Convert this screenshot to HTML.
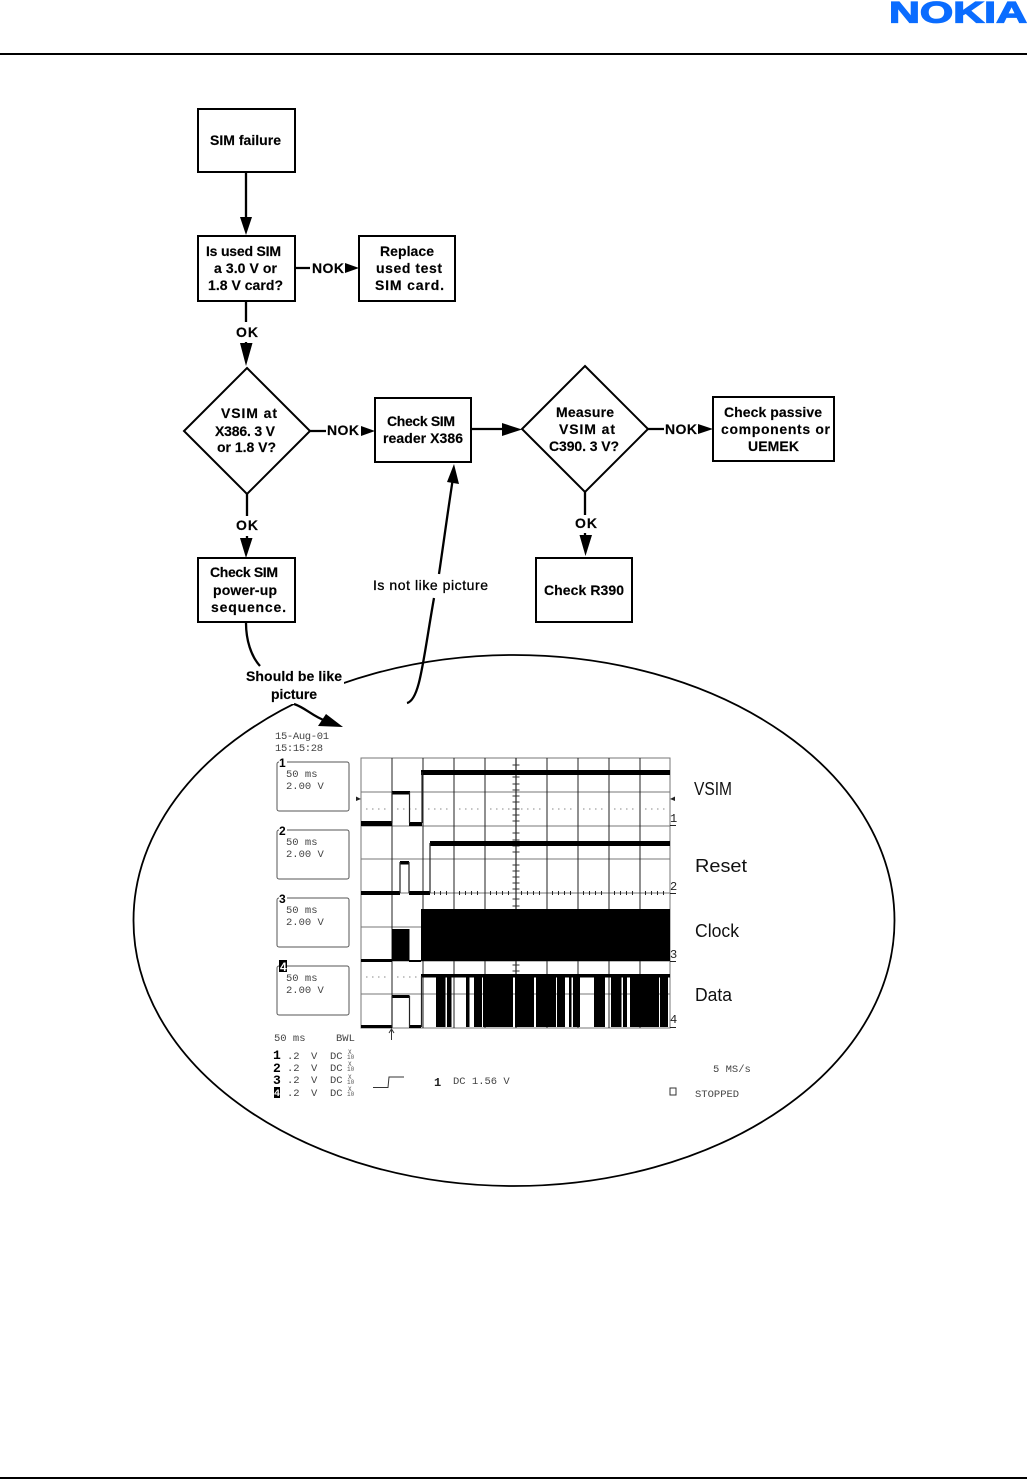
<!DOCTYPE html>
<html><head><meta charset="utf-8"><style>
html,body{margin:0;padding:0;background:#fff}
svg{display:block}
.f{font:bold 14px "Liberation Sans",sans-serif;fill:#000;stroke:#000;stroke-width:.15}
.m{font:10.5px "Liberation Mono",monospace;fill:#444}
.n{font:bold 12px "Liberation Sans",sans-serif;fill:#000}
.l{font:18px "Liberation Sans",sans-serif;fill:#111}
.b{fill:#fff;stroke:#000;stroke-width:2}
.c{fill:none;stroke:#000;stroke-width:2.300}
.g{stroke:#777;stroke-width:1}
.k{stroke:#222;stroke-width:1}
</style></head><body>
<svg width="1027" height="1479" viewBox="0 0 1027 1479" xmlns="http://www.w3.org/2000/svg">
<rect width="1027" height="1479" fill="#fff"/>
<text x="889" y="22.500" textLength="138" lengthAdjust="spacingAndGlyphs" style="font:bold 30px 'Liberation Sans',sans-serif;fill:#0a6cff;stroke:#0a6cff;stroke-width:1.200">NOKIA</text>
<rect x="0" y="53" width="1027" height="2" fill="#000"/>
<rect x="0" y="1477" width="1027" height="2" fill="#000"/>

<!-- ellipse -->
<ellipse cx="514" cy="920.500" rx="380.500" ry="265.500" fill="none" stroke="#000" stroke-width="1.800"/>
<rect x="244" y="664" width="100" height="40" fill="#fff"/>

<!-- connectors -->
<path class="c" d="M246 172V220M295 268H310M246 301V322M246 342V346M310 431H326M247 494V516M247 536V540M471 429H505M648 429H664M585 492V515M585 533V538"/>
<path class="c" d="M246 623C246 640 251 656 260 666M294 704C306 708 312 716 326 721M407 703C420 700 423 660 434 598M439 574C444 540 448 510 453 478"/>
<path d="M240 217H252L246 235ZM345 263L359 268L345 273ZM240 343H252.500L246 366ZM361 426L375 431L361 436ZM240 538H252.500L246 558ZM502 423L522 429.500L502 436ZM698 424L713 429L698 434ZM579.500 535H592L585.500 556ZM447 482L454 464L459 484ZM326 714L343 727L318 726Z" fill="#000"/>

<!-- boxes -->
<rect class="b" x="198" y="109" width="97" height="63"/>
<rect class="b" x="198" y="236" width="97" height="65"/>
<rect class="b" x="359" y="236" width="96" height="65"/>
<polygon class="b" points="247,368 310,431 247,494 184,431"/>
<rect class="b" x="375" y="398" width="96" height="64"/>
<polygon class="b" points="585,366 648,429 585,492 522,429"/>
<rect class="b" x="713" y="397" width="121" height="64"/>
<rect class="b" x="198" y="558" width="97" height="64"/>
<rect class="b" x="536" y="558" width="96" height="64"/>

<g lengthAdjust="spacingAndGlyphs">
<text class="f" x="210" y="145" textLength="71">SIM failure</text>
<text class="f" x="206" y="256" textLength="75">Is used SIM</text>
<text class="f" x="214" y="273" textLength="63">a 3.0 V or</text>
<text class="f" x="208" y="290" textLength="75">1.8 V card?</text>
<text class="f" x="312" y="273" textLength="32">NOK</text>
<text class="f" x="380" y="256" textLength="54">Replace</text>
<text class="f" x="376" y="273" textLength="66">used test</text>
<text class="f" x="375" y="290" textLength="69">SIM card.</text>
<text class="f" x="236" y="337" textLength="22">OK</text>
<text class="f" x="221" y="418" textLength="56">VSIM at</text>
<text class="f" x="215" y="436" textLength="60">X386. 3 V</text>
<text class="f" x="217" y="452" textLength="59">or 1.8 V?</text>
<text class="f" x="327" y="435" textLength="32">NOK</text>
<text class="f" x="387" y="426" textLength="68">Check SIM</text>
<text class="f" x="383" y="443" textLength="80">reader X386</text>
<text class="f" x="556" y="417" textLength="58">Measure</text>
<text class="f" x="559" y="434" textLength="56">VSIM at</text>
<text class="f" x="549" y="451" textLength="70">C390. 3 V?</text>
<text class="f" x="665" y="434" textLength="32">NOK</text>
<text class="f" x="724" y="417" textLength="98">Check passive</text>
<text class="f" x="721" y="434" textLength="109">components or</text>
<text class="f" x="748" y="451" textLength="51">UEMEK</text>
<text class="f" x="236" y="530" textLength="22">OK</text>
<text class="f" x="575" y="528" textLength="22">OK</text>
<text class="f" x="210" y="577" textLength="68">Check SIM</text>
<text class="f" x="213" y="595" textLength="64">power-up</text>
<text class="f" x="211" y="612" textLength="75">sequence.</text>
<text class="f" x="544" y="595" textLength="80">Check R390</text>
<text class="f" x="246" y="681" textLength="96">Should be like</text>
<text class="f" x="271" y="699" textLength="46">picture</text>
<text x="373" y="590" textLength="115" style="font:14px 'Liberation Sans',sans-serif;fill:#000;stroke:#000;stroke-width:.3">Is not like picture</text>
</g>

<!-- scope header -->
<text class="m" x="275" y="739" textLength="54">15-Aug-01</text>
<text class="m" x="275" y="751" textLength="48">15:15:28</text>

<!-- channel boxes -->
<g fill="none" stroke="#555" stroke-width="1">
<rect x="277" y="762" width="72" height="49" rx="2"/>
<rect x="277" y="830" width="72" height="49" rx="2"/>
<rect x="277" y="898" width="72" height="49" rx="2"/>
<rect x="277" y="966" width="72" height="49" rx="2"/>
</g>
<g fill="#fff"><rect x="279" y="756" width="8" height="12"/><rect x="279" y="824" width="8" height="12"/><rect x="279" y="892" width="8" height="12"/></g>
<text class="n" x="279" y="767">1</text><text class="n" x="279" y="835">2</text><text class="n" x="279" y="903">3</text>
<rect x="279" y="960" width="8" height="12" fill="#000"/><text class="n" x="280" y="971" style="fill:#fff">4</text>
<g class="m">
<text x="286" y="777">50 ms</text><text x="286" y="789">2.00 V</text>
<text x="286" y="845">50 ms</text><text x="286" y="857">2.00 V</text>
<text x="286" y="913">50 ms</text><text x="286" y="925">2.00 V</text>
<text x="286" y="981">50 ms</text><text x="286" y="993">2.00 V</text>
</g>

<!-- grid -->
<rect x="361" y="758" width="309" height="270" fill="#fff" stroke="#777" stroke-width="1"/>
<path class="g" d="M361 792H670M361 826H670M361 859H670M361 893H670M361 927H670M361 961H670M361 994H670"/>
<path class="k" d="M392 758V1028M423 758V1028M454 758V1028M485 758V1028M547 758V1028M578 758V1028M609 758V1028M640 758V1028"/>
<path stroke="#222" stroke-width="1.200" d="M516 758V1028"/>
<path stroke="#333" stroke-width="1" d="M512.500 765H519.500M512.500 771H519.500M512.500 777H519.500M512.500 784H519.500M512.500 790H519.500M512.500 796H519.500M512.500 802H519.500M512.500 809H519.500M512.500 815H519.500M512.500 821H519.500M512.500 833H519.500M512.500 840H519.500M512.500 846H519.500M512.500 852H519.500M512.500 865H519.500M512.500 871H519.500M512.500 877H519.500M512.500 883H519.500M512.500 889H519.500M512.500 899H519.500M512.500 906H519.500M512.500 965H519.500M512.500 971H519.500"/>
<path stroke="#888" stroke-width="1" stroke-dasharray="1.500 4.500" d="M366 809H388M397 809H419M428 809H450M459 809H481M490 809H512M521 809H543M552 809H574M583 809H605M614 809H636M645 809H667M366 977H388M397 977H419"/>
<path stroke="#222" stroke-width="4" stroke-dasharray="1 5" d="M366 893H388M428 893H450M459 893H481M490 893H512M521 893H543M552 893H574M583 893H605M614 893H636M645 893H667"/>

<!-- traces -->
<g fill="#000">
<rect x="361" y="821" width="31" height="5"/><rect x="392" y="791" width="18" height="3.500"/><rect x="409" y="822" width="13" height="4"/>
<rect x="421" y="770" width="249" height="5"/>
<rect x="361" y="891" width="39" height="4"/><rect x="400" y="861" width="9" height="3.500"/><rect x="409" y="891" width="21" height="4"/>
<rect x="430" y="841" width="240" height="5"/>
<rect x="361" y="959" width="31" height="3"/><rect x="392" y="929" width="17.500" height="32"/><rect x="409" y="960" width="12" height="2"/>
<rect x="421" y="909" width="249" height="52"/>
<rect x="361" y="1025" width="31" height="3"/><rect x="392" y="995" width="17.500" height="3"/><rect x="409" y="1025" width="12" height="3"/>
<rect x="421" y="974" width="249" height="3.500"/>
<rect x="436" y="976" width="9.500" height="51"/><rect x="447" y="976" width="4.500" height="51"/><rect x="466" y="976" width="3.500" height="51"/><rect x="474" y="976" width="8" height="51"/><rect x="483" y="976" width="30" height="51"/><rect x="515" y="976" width="19" height="51"/><rect x="536" y="976" width="20" height="51"/><rect x="557" y="976" width="8" height="51"/><rect x="569" y="976" width="2.500" height="51"/><rect x="573" y="976" width="7" height="51"/><rect x="594" y="976" width="11" height="51"/><rect x="611" y="976" width="10.500" height="51"/><rect x="623" y="976" width="4" height="51"/><rect x="630" y="976" width="29" height="51"/><rect x="660" y="976" width="8" height="51"/>
</g>
<path stroke="#222" stroke-width="1.200" fill="none" d="M392 823V792M409.500 792V823M422 823V772M400 893V862M409 862V893M430 893V843M392 1027V996M409.500 996V1027M421.500 1027V976"/>
<path d="M356 796.500L361 799L356 801ZM675 796.500L670 799L675 801Z" fill="#222"/>

<!-- right numbers -->
<g style="font:12px 'Liberation Mono',monospace;fill:#222">
<text x="670" y="822">1</text><text x="670" y="890">2</text><text x="670" y="958">3</text><text x="670" y="1023">4</text>
</g>
<path stroke="#222" d="M670 825.500H676M670 893.500H676M670 961.500H676M670 1027.500H676"/>
<text class="l" x="694" y="795" textLength="38" lengthAdjust="spacingAndGlyphs">VSIM</text>
<text class="l" x="695" y="872" textLength="52" lengthAdjust="spacingAndGlyphs">Reset</text>
<text class="l" x="695" y="937" textLength="44" lengthAdjust="spacingAndGlyphs">Clock</text>
<text class="l" x="695" y="1001" textLength="37" lengthAdjust="spacingAndGlyphs">Data</text>

<!-- bottom -->
<path stroke="#333" fill="none" d="M391.500 1040V1029M389 1033L391.500 1029L394 1033"/>
<text class="m" x="274" y="1041">50 ms</text><text class="m" x="336" y="1041">BWL</text>
<g style="font:bold 13px 'Liberation Mono',monospace;fill:#000">
<text x="273" y="1059">1</text><text x="273" y="1072">2</text><text x="273" y="1084">3</text>
</g>
<rect x="274" y="1087" width="6" height="11" fill="#000"/>
<text x="274" y="1096" style="font:bold 10px 'Liberation Mono',monospace;fill:#fff">4</text>
<g class="m">
<text x="287" y="1059">.2</text><text x="311" y="1059">V</text><text x="330" y="1059">DC</text>
<text x="287" y="1071">.2</text><text x="311" y="1071">V</text><text x="330" y="1071">DC</text>
<text x="287" y="1083">.2</text><text x="311" y="1083">V</text><text x="330" y="1083">DC</text>
<text x="287" y="1096">.2</text><text x="311" y="1096">V</text><text x="330" y="1096">DC</text>
</g>
<g style="font:6px 'Liberation Mono',monospace;fill:#555">
<text x="348" y="1054">X</text><text x="347" y="1059">10</text>
<text x="348" y="1066">X</text><text x="347" y="1071">10</text>
<text x="348" y="1079">X</text><text x="347" y="1084">10</text>
<text x="348" y="1091">X</text><text x="347" y="1096">10</text>
</g>
<path fill="none" stroke="#333" d="M373 1087.500H388L389 1077H404"/>
<text x="434" y="1086" style="font:bold 12px 'Liberation Mono',monospace;fill:#222">1</text>
<text class="m" x="453" y="1084">DC 1.56 V</text>
<text class="m" x="713" y="1072">5 MS/s</text>
<rect x="670" y="1088" width="6" height="7" fill="none" stroke="#333"/>
<text class="m" x="695" y="1097">STOPPED</text>
</svg>
</body></html>
